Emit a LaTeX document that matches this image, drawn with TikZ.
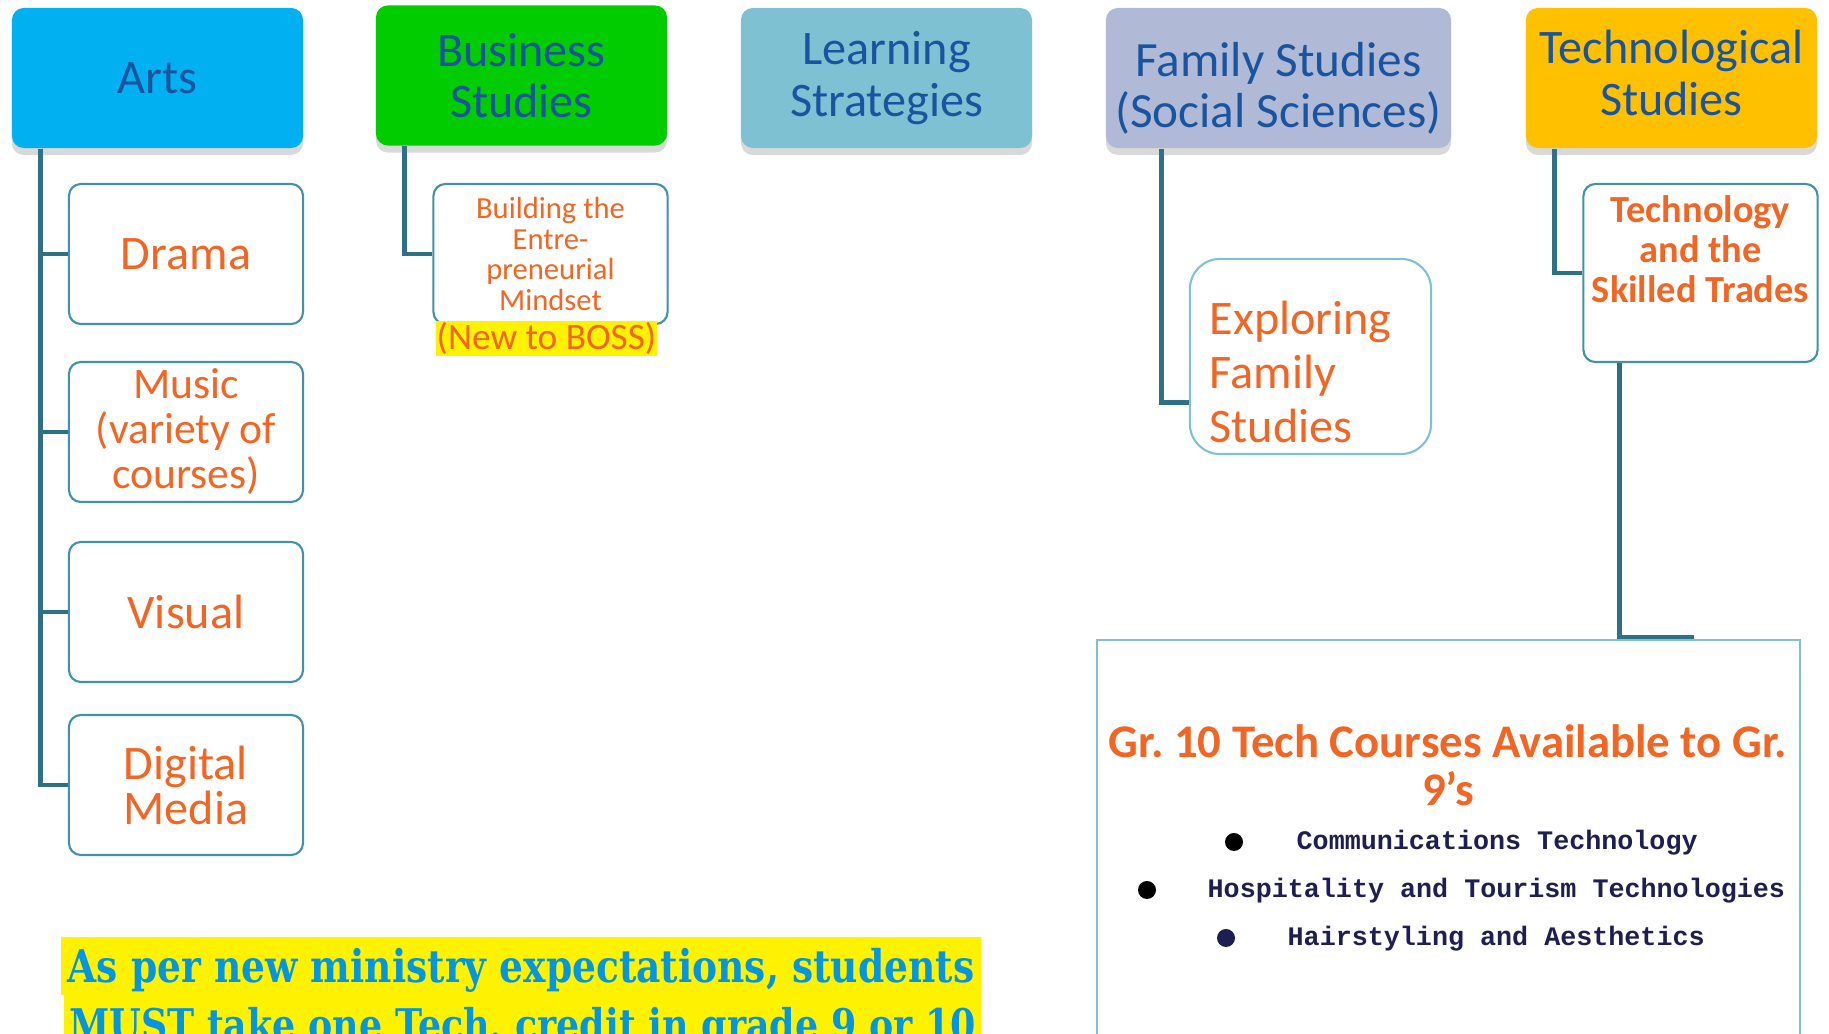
\documentclass[tikz,border=0pt]{standalone}
\usepackage{fontspec}
\setmainfont{Carlito}
\newfontfamily\monofnt{Liberation Mono}
\newfontfamily\slabfnt{DejaVu Serif}[FakeStretch=0.835]
\usepackage{xcolor}
\usetikzlibrary{shadows,positioning,calc}
\frenchspacing

\definecolor{artsblue}{RGB}{0,176,240}
\definecolor{busgreen}{RGB}{0,204,0}
\definecolor{learnteal}{RGB}{126,193,211}
\definecolor{famlilac}{RGB}{176,186,214}
\definecolor{techgold}{RGB}{255,192,0}
\definecolor{headblue}{RGB}{24,84,160}
\definecolor{courseorange}{RGB}{242,101,34}
\definecolor{trunkteal}{RGB}{46,112,132}
\definecolor{boxteal}{RGB}{65,145,170}
\definecolor{paleteal}{RGB}{127,193,211}
\definecolor{navy}{RGB}{30,30,80}
\definecolor{noteblue}{RGB}{0,150,225}

\begin{document}
\begin{tikzpicture}[x=0.01cm, y=-0.01cm,
                    header/.style={rounded corners=0.12cm, inner sep=0pt, minimum width=2.91cm, minimum height=1.40cm,
                                   align=center, text=headblue, font=\fontsize{13.7}{14.6}\selectfont,
                                   drop shadow={shadow xshift=0pt, shadow yshift=-0.07cm, opacity=0.3}},
                    headtext/.style={inner sep=0pt, align=center, text=headblue, font=\fontsize{13.7}{14.6}\selectfont},
                    course/.style={draw=boxteal, line width=0.6pt, rounded corners=0.12cm, fill=white, inner sep=0pt,
                                   minimum width=2.34cm, minimum height=1.40cm, align=center, text=courseorange,
                                   font=\fontsize{13.7}{12.8}\selectfont},
                    trunk/.style={trunkteal, line width=1.4pt},
                    bulletdot/.style={circle, fill=black, inner sep=0pt, minimum size=0.18cm},
                    itemtext/.style={anchor=base west, inner sep=0pt, text=navy, font=\monofnt\bfseries\fontsize{7.6}{9}\selectfont},
                    notebar/.style={anchor=base, fill=yellow, inner sep=0pt, text height=0.46cm, text depth=0.12cm,
                                    text=noteblue, font=\slabfnt\bfseries\fontsize{12.8}{14}\selectfont},
                   ]

\useasboundingbox (0,0) rectangle (1829,1034);
\clip (0,0) rectangle (1829,1034);

% subject headers
\node[header, fill=artsblue] (arts) at (157.5,78) {Arts};
\node[header, fill=busgreen] (bus) at (521.5,75.5) {Business\\Studies};
\node[header, fill=learnteal] (learn) at (886.5,78) {Learning\\Strategies};
\node[header, fill=famlilac, minimum width=3.45cm] (fam) at (1278.5,78) {};
\node[headtext, font=\fontsize{14.0}{14.6}\selectfont] (famtext) at ([yshift=-0.1cm]fam.center) {Family Studies\\(Social Sciences)};
\node[header, fill=techgold] (tech) at (1671.5,78) {};
\node[headtext] (techtext) at ([yshift=0.05cm]tech.center) {Technological\\Studies};

% courses
\node[course] (drama) at (186,254) {Drama};
\node[course, font=\fontsize{12.4}{12.8}\selectfont] (music) at (186,432) {Music\\(variety of\\courses)};
\node[course] (visual) at (186,612) {Visual};
\node[course] (digital) at (186,785) {Digital\\Media};

\node[course, font=\fontsize{8.7}{8.8}\selectfont] (bem) at (550.5,254) {Building the\\Entre-\\preneurial\\Mindset};
\node[fill=yellow, inner sep=0pt, minimum width=2.21cm, minimum height=0.35cm, text=courseorange,
      font=\fontsize{10.6}{11}\selectfont] (boss) at (546.5,338.5) {(New to BOSS)};

\node[course, draw=paleteal, rounded corners=0.3cm, minimum width=2.41cm, minimum height=1.95cm] (efs) at (1310.5,356.5) {};
\node[anchor=north west, inner sep=0pt, align=left, text=courseorange, font=\fontsize{13.7}{15.4}\selectfont]
     (efstext) at (1209,300) {Exploring\\Family\\Studies};

\node[course, minimum height=1.78cm, font=\bfseries\fontsize{10.9}{11.4}\selectfont] (tsk) at (1700.5,273)
     {Technology\\and the\\Skilled Trades\\[0.08cm]\mbox{}};

% grade 10 tech box
\node[draw=paleteal, line width=0.6pt, minimum width=7.03cm, minimum height=4.0cm, inner sep=0pt] (gr10) at (1448.5,840) {};
\node[align=center, inner sep=0pt, text=courseorange, font=\bfseries\fontsize{13.3}{13.7}\selectfont]
     (gr10title) at (1448,765) {Gr. 10 Tech Courses Available to Gr.\\9’s};

\node[bulletdot] (d1) at (1234,842) {};
\node[itemtext] (c1) at (1296,850) {Communications Technology};
\node[bulletdot] (d2) at (1147,890) {};
\node[itemtext] (c2) at (1207,898) {Hospitality and Tourism Technologies};
\node[bulletdot, fill=navy] (d3) at (1226,938) {};
\node[itemtext] (c3) at (1287,946) {Hairstyling and Aesthetics};

% connectors
\coordinate (artsroot) at ([xshift=0.29cm]arts.south west);
\foreach \c in {drama,music,visual,digital}
  \draw[trunk] (artsroot) |- (\c.west);
\draw[trunk] ([xshift=0.29cm]bus.south west) |- (bem.west);
\draw[trunk] ([xshift=0.56cm]fam.south west) |- ([yshift=-0.46cm]efs.west);
\draw[trunk] ([xshift=0.29cm]tech.south west) |- (tsk.west);
\coordinate (techend) at (1694,637);
\draw[trunk] ([xshift=0.37cm]tsk.south west) |- (techend);

% ministry note
\node[notebar, minimum width=9.2cm] (note1) at (521,983) {As per new ministry expectations, students};
\node[notebar, minimum width=9.17cm, font=\slabfnt\bfseries\fontsize{12.4}{14}\selectfont] (note2) at (522.5,1041)
     {MUST take one Tech. credit in grade 9 or 10};

\end{tikzpicture}
\end{document}
